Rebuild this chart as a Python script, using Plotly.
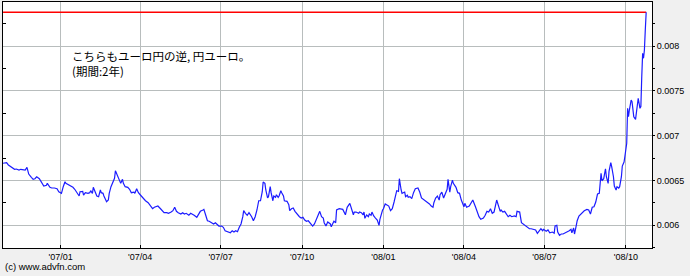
import plotly.graph_objects as go

# ---- data ----
dates = [
    "2006-10-28", "2006-11-01", "2006-11-03", "2006-11-07", "2006-11-10", "2006-11-12", "2006-11-15",
    "2006-11-17", "2006-11-20", "2006-11-22", "2006-11-24", "2006-11-26", "2006-11-29", "2006-12-01",
    "2006-12-03", "2006-12-05", "2006-12-08", "2006-12-11", "2006-12-13", "2006-12-16", "2006-12-17",
    "2006-12-20", "2006-12-22", "2006-12-25", "2006-12-28", "2006-12-30", "2007-01-02", "2007-01-04",
    "2007-01-06", "2007-01-07", "2007-01-10", "2007-01-13", "2007-01-15", "2007-01-17", "2007-01-20",
    "2007-01-22", "2007-01-23", "2007-01-26", "2007-01-27", "2007-01-29", "2007-02-01", "2007-02-03",
    "2007-02-04", "2007-02-06", "2007-02-07", "2007-02-09", "2007-02-11", "2007-02-13", "2007-02-15",
    "2007-02-16", "2007-02-18", "2007-02-19", "2007-02-22", "2007-02-24", "2007-02-25", "2007-02-27",
    "2007-03-01", "2007-03-03", "2007-03-04", "2007-03-06", "2007-03-08", "2007-03-10", "2007-03-12",
    "2007-03-13", "2007-03-15", "2007-03-18", "2007-03-20", "2007-03-22", "2007-03-25", "2007-03-26",
    "2007-03-28", "2007-03-30", "2007-04-01", "2007-04-04", "2007-04-07", "2007-04-10", "2007-04-12",
    "2007-04-15", "2007-04-17", "2007-04-19", "2007-04-21", "2007-04-24", "2007-04-26", "2007-04-28",
    "2007-05-01",
    "2007-05-03", "2007-05-06", "2007-05-08", "2007-05-10", "2007-05-12", "2007-05-14", "2007-05-17",
    "2007-05-19", "2007-05-21", "2007-05-23", "2007-05-26", "2007-05-28", "2007-05-30", "2007-06-01",
    "2007-06-04", "2007-06-06", "2007-06-08", "2007-06-11", "2007-06-12", "2007-06-14", "2007-06-16",
    "2007-06-18", "2007-06-20", "2007-06-23", "2007-06-25", "2007-06-27", "2007-06-29", "2007-07-02",
    "2007-07-04", "2007-07-06", "2007-07-08", "2007-07-11", "2007-07-12", "2007-07-14", "2007-07-16",
    "2007-07-18", "2007-07-20", "2007-07-22", "2007-07-24", "2007-07-26", "2007-07-27", "2007-07-29",
    "2007-07-31", "2007-08-02", "2007-08-05", "2007-08-07", "2007-08-09", "2007-08-11", "2007-08-13",
    "2007-08-15", "2007-08-17", "2007-08-18", "2007-08-20", "2007-08-21", "2007-08-23", "2007-08-24",
    "2007-08-26", "2007-08-27", "2007-08-29", "2007-08-30", "2007-09-01", "2007-09-02", "2007-09-04",
    "2007-09-05", "2007-09-07", "2007-09-08", "2007-09-10", "2007-09-11", "2007-09-14", "2007-09-16",
    "2007-09-17", "2007-09-19", "2007-09-21", "2007-09-23", "2007-09-26", "2007-09-28", "2007-09-30",
    "2007-10-02", "2007-10-04", "2007-10-06", "2007-10-08", "2007-10-11", "2007-10-13", "2007-10-15",
    "2007-10-17", "2007-10-20", "2007-10-21", "2007-10-23", "2007-10-25", "2007-10-26", "2007-10-28",
    "2007-10-30", "2007-11-02", "2007-11-03",
    "2007-11-06", "2007-11-08", "2007-11-09", "2007-11-12", "2007-11-14", "2007-11-16", "2007-11-19",
    "2007-11-20", "2007-11-21", "2007-11-24", "2007-11-25", "2007-11-28", "2007-11-29", "2007-12-01",
    "2007-12-04", "2007-12-05", "2007-12-07", "2007-12-09", "2007-12-10", "2007-12-11", "2007-12-13",
    "2007-12-15", "2007-12-16", "2007-12-18", "2007-12-19", "2007-12-21", "2007-12-23", "2007-12-25",
    "2007-12-27", "2007-12-28", "2007-12-31", "2008-01-01", "2008-01-03", "2008-01-05", "2008-01-07",
    "2008-01-09", "2008-01-11", "2008-01-13", "2008-01-15", "2008-01-16", "2008-01-18", "2008-01-19",
    "2008-01-21", "2008-01-22", "2008-01-25", "2008-01-26", "2008-01-28", "2008-01-29", "2008-01-31",
    "2008-02-02", "2008-02-04", "2008-02-06", "2008-02-09", "2008-02-11", "2008-02-13", "2008-02-15",
    "2008-02-18", "2008-02-20", "2008-02-22", "2008-02-24", "2008-02-26", "2008-02-27", "2008-02-29",
    "2008-03-02", "2008-03-04", "2008-03-05", "2008-03-07", "2008-03-09", "2008-03-11", "2008-03-13",
    "2008-03-14", "2008-03-16", "2008-03-17", "2008-03-19", "2008-03-20", "2008-03-23", "2008-03-25",
    "2008-03-27", "2008-03-29", "2008-04-01", "2008-04-02", "2008-04-04", "2008-04-07", "2008-04-09",
    "2008-04-11", "2008-04-14", "2008-04-16", "2008-04-18", "2008-04-20", "2008-04-23", "2008-04-25",
    "2008-04-27", "2008-04-29", "2008-05-01", "2008-05-03", "2008-05-05", "2008-05-08", "2008-05-10",
    "2008-05-12",
    "2008-05-13", "2008-05-15", "2008-05-17", "2008-05-19", "2008-05-21", "2008-05-23", "2008-05-25",
    "2008-05-28", "2008-05-30", "2008-05-31", "2008-06-03", "2008-06-05", "2008-06-07", "2008-06-09",
    "2008-06-12", "2008-06-14", "2008-06-16", "2008-06-18", "2008-06-21", "2008-06-23", "2008-06-25",
    "2008-06-27", "2008-06-29", "2008-06-30", "2008-07-03", "2008-07-05", "2008-07-07", "2008-07-10",
    "2008-07-12", "2008-07-13", "2008-07-15", "2008-07-16", "2008-07-18", "2008-07-20", "2008-07-22",
    "2008-07-25", "2008-07-27", "2008-07-29", "2008-07-31", "2008-08-01", "2008-08-03", "2008-08-04",
    "2008-08-06", "2008-08-07", "2008-08-09", "2008-08-11", "2008-08-13", "2008-08-15", "2008-08-18",
    "2008-08-20", "2008-08-22", "2008-08-24", "2008-08-26", "2008-08-28", "2008-08-30", "2008-09-01",
    "2008-09-03", "2008-09-04", "2008-09-06", "2008-09-08", "2008-09-09", "2008-09-11", "2008-09-12",
    "2008-09-14", "2008-09-15", "2008-09-17", "2008-09-18", "2008-09-20", "2008-09-21", "2008-09-23",
    "2008-09-24", "2008-09-26", "2008-09-27", "2008-09-29", "2008-09-30",
    "2008-10-01", "2008-10-02", "2008-10-03", "2008-10-04", "2008-10-05", "2008-10-07", "2008-10-08",
    "2008-10-10", "2008-10-12", "2008-10-13", "2008-10-14", "2008-10-15", "2008-10-17", "2008-10-18",
    "2008-10-19", "2008-10-20", "2008-10-21", "2008-10-22", "2008-10-23", "2008-10-24",
]

rates = [
    0.006692, 0.006698, 0.006673, 0.006647, 0.006625, 0.006628, 0.006617,
    0.006625, 0.006617, 0.006617, 0.006647, 0.006572, 0.006535, 0.006513,
    0.006520, 0.006542, 0.006520, 0.006475, 0.006438, 0.006446, 0.006468,
    0.006424, 0.006416, 0.006416, 0.006408, 0.006375, 0.006357, 0.006431,
    0.006486, 0.006468, 0.006450, 0.006438, 0.006424, 0.006402, 0.006364,
    0.006327, 0.006375, 0.006379, 0.006338, 0.006364, 0.006357, 0.006364,
    0.006386, 0.006357, 0.006424, 0.006375, 0.006327, 0.006319, 0.006394,
    0.006364, 0.006357, 0.006327, 0.006263, 0.006282, 0.006357, 0.006431,
    0.006483, 0.006524, 0.006609, 0.006558, 0.006497, 0.006468, 0.006513,
    0.006468, 0.006431, 0.006424, 0.006402, 0.006364, 0.006371, 0.006357,
    0.006408, 0.006364, 0.006341, 0.006305, 0.006274, 0.006252, 0.006230,
    0.006185, 0.006201, 0.006207, 0.006215, 0.006185, 0.006156, 0.006141,
    0.006141,
    0.006134, 0.006148, 0.006163, 0.006201, 0.006156, 0.006141, 0.006126,
    0.006141, 0.006126, 0.006134, 0.006112, 0.006134, 0.006126, 0.006112,
    0.006089, 0.006118, 0.006156, 0.006171, 0.006178, 0.006115, 0.006051,
    0.006045, 0.006029, 0.006015, 0.006029, 0.006015, 0.005992, 0.005992,
    0.005978, 0.005940, 0.005933, 0.005925, 0.005917, 0.005940, 0.005925,
    0.005940, 0.005929, 0.005978, 0.006015, 0.006096, 0.006163, 0.006134,
    0.006112, 0.006141, 0.006096, 0.006051, 0.006096, 0.006171, 0.006274,
    0.006274, 0.006375, 0.006483, 0.006468, 0.006394, 0.006305, 0.006319,
    0.006431, 0.006364, 0.006274, 0.006327, 0.006312, 0.006341, 0.006312,
    0.006327, 0.006386, 0.006364, 0.006327, 0.006274, 0.006268, 0.006230,
    0.006163, 0.006185, 0.006193, 0.006156, 0.006112, 0.006096, 0.006081,
    0.006089, 0.006059, 0.006045, 0.006051, 0.006015, 0.005992, 0.006015,
    0.006067, 0.006141, 0.006156, 0.006096, 0.006081, 0.006029, 0.005992,
    0.006037, 0.006015, 0.005984,
    0.006045, 0.006029, 0.006171, 0.006185, 0.006185, 0.006178, 0.006118,
    0.006156, 0.006201, 0.006245, 0.006207, 0.006118, 0.006148, 0.006148,
    0.006134, 0.006148, 0.006141, 0.006118, 0.006148, 0.006078, 0.006115,
    0.006096, 0.006126, 0.006112, 0.006148, 0.006104, 0.006081, 0.006059,
    0.006000, 0.006067, 0.006171, 0.006185, 0.006238, 0.006230, 0.006215,
    0.006163, 0.006185, 0.006260, 0.006357, 0.006386, 0.006379, 0.006520,
    0.006394, 0.006357, 0.006371, 0.006319, 0.006335, 0.006312, 0.006319,
    0.006297, 0.006364, 0.006408, 0.006416, 0.006371, 0.006305, 0.006290,
    0.006274, 0.006260, 0.006238, 0.006215, 0.006201, 0.006252, 0.006305,
    0.006327, 0.006282, 0.006341, 0.006371, 0.006305, 0.006364, 0.006402,
    0.006513, 0.006371, 0.006431, 0.006505, 0.006468, 0.006424, 0.006364,
    0.006357, 0.006282, 0.006207, 0.006245, 0.006201, 0.006215, 0.006245,
    0.006282, 0.006207, 0.006148, 0.006096, 0.006067, 0.006081, 0.006112,
    0.006156, 0.006148, 0.006185, 0.006134, 0.006148, 0.006282, 0.006215,
    0.006156,
    0.006171, 0.006148, 0.006156, 0.006126, 0.006096, 0.006112, 0.006096,
    0.006104, 0.006096, 0.006156, 0.006148, 0.006029, 0.006015, 0.006000,
    0.005984, 0.005962, 0.005962, 0.005955, 0.005948, 0.005911, 0.005940,
    0.005962, 0.005940, 0.005955, 0.005933, 0.005948, 0.005917, 0.005925,
    0.005911, 0.005992, 0.006000, 0.005925, 0.005888, 0.005903, 0.005903,
    0.005917, 0.005925, 0.005940, 0.005955, 0.005917, 0.005970, 0.005903,
    0.006000, 0.006051, 0.006104, 0.006126, 0.006148, 0.006163, 0.006178,
    0.006171, 0.006126, 0.006201, 0.006207, 0.006260, 0.006349, 0.006357,
    0.006580, 0.006497, 0.006520, 0.006631, 0.006542, 0.006468, 0.006602,
    0.006698, 0.006654, 0.006542, 0.006438, 0.006394, 0.006431, 0.006416,
    0.006431, 0.006542, 0.006661, 0.006706, 0.006773,
    0.006877, 0.006915, 0.007305, 0.007211, 0.007286, 0.007398, 0.007379,
    0.007211, 0.007182, 0.007286, 0.007323, 0.007417, 0.007305, 0.007323,
    0.007658, 0.007919, 0.007863, 0.007955, 0.008178, 0.008376,
]

x_tick_vals = ["2007-01-01", "2007-04-01", "2007-07-01", "2007-10-01",
               "2008-01-01", "2008-04-01", "2008-07-01", "2008-10-01"]
x_tick_labels = ["'07/01", "'07/04", "'07/07", "'07/10",
                 "'08/01", "'08/04", "'08/07", "'08/10"]
y_tick_vals = [0.006, 0.0065, 0.007, 0.0075, 0.008]
y_tick_labels = ["0.006", "0.0065", "0.007", "0.0075", "0.008"]
y_minor_vals = [0.00575, 0.00625, 0.00675, 0.00725, 0.00775, 0.00825]

x_range = ["2006-10-27 22:00", "2008-10-30 14:00"]
y_range = [0.005747, 0.008491]

note_lines = ["こちらもユーロ円の逆, 円ユーロ。", "(期間:2年)"]
copyright_text = "(c) www.advfn.com"

# ---- styles ----
GRID = "#b8bdbd"
TICK_FONT = dict(family="Liberation Sans, Arial, sans-serif", size=9, color="#000000")

fig = go.Figure()

peak = max(rates)
fig.add_trace(go.Scatter(
    x=[dates[0], dates[-1]], y=[peak, peak], mode="lines",
    line=dict(color="#ff0000", width=1.4), hoverinfo="skip", showlegend=False,
))
fig.add_trace(go.Scatter(
    x=dates, y=rates, mode="lines",
    line=dict(color="#1c1cff", width=1.2), showlegend=False,
))
# empty trace so the left-hand helper axis is drawn
fig.add_trace(go.Scatter(x=[], y=[], yaxis="y2", showlegend=False, hoverinfo="skip"))

fig.add_shape(
    type="rect", xref="paper", yref="paper",
    x0=0.1048, x1=0.399, y0=0.6057, y1=0.817,
    fillcolor="#ffffff", line=dict(width=0), layer="between",
)

fig.add_annotation(
    text="<br>".join(note_lines), xref="paper", yref="paper",
    x=0.1032, y=0.823, xanchor="left", yanchor="top", align="left",
    showarrow=False, font=dict(family="Noto Sans CJK JP", size=11.5, color="#000000"),
)
fig.add_annotation(
    text=copyright_text, xref="paper", yref="paper",
    x=0.0, y=-0.0772, xanchor="left", yanchor="middle", showarrow=False,
    font=dict(family="Liberation Sans, Arial, sans-serif", size=9.5, color="#000000"),
)

fig.update_layout(
    width=690, height=276, autosize=False,
    margin=dict(l=3, r=38, t=2, b=28, pad=0),
    paper_bgcolor="#f0f0f0", plot_bgcolor="#ffffff",
    showlegend=False,
    xaxis=dict(
        type="date", range=x_range,
        tickmode="array", tickvals=x_tick_vals, ticktext=x_tick_labels,
        ticks="inside", ticklen=3, tickcolor="#000000", tickwidth=1,
        showgrid=True, gridcolor=GRID, gridwidth=1,
        showline=True, linecolor="#000000", linewidth=1, mirror=True,
        zeroline=False, tickfont=TICK_FONT,
    ),
    yaxis=dict(
        range=y_range, side="right",
        tickmode="array", tickvals=y_tick_vals, ticktext=y_tick_labels,
        ticks="outside", ticklen=2, tickcolor="#000000", tickwidth=1,
        minor=dict(tickmode="array", tickvals=y_minor_vals, ticks="outside",
                   ticklen=2, tickcolor="#000000", showgrid=False),
        showgrid=True, gridcolor=GRID, gridwidth=1,
        showline=True, linecolor="#000000", linewidth=1, mirror=True,
        zeroline=False, tickfont=TICK_FONT,
    ),
    yaxis2=dict(
        range=y_range, overlaying="y", side="left",
        tickmode="array", tickvals=y_minor_vals,
        ticks="inside", ticklen=3, tickcolor="#000000", tickwidth=1,
        showticklabels=False, showgrid=False, showline=False, zeroline=False,
    ),
)

fig.write_html("out.html", config={"displayModeBar": False})
